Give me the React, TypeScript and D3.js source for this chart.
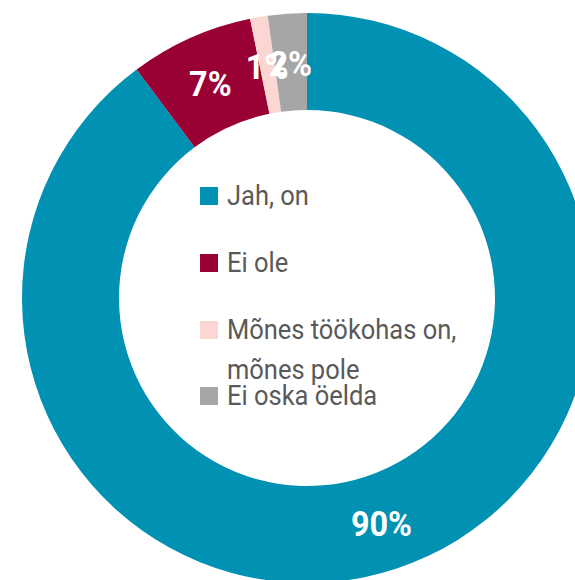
import * as d3 from 'd3';

const categories = ['Jah, on', 'Ei ole', 'Mõnes töökohas on, mõnes pole', 'Ei oska öelda'];
const legendLines = [['Jah, on'], ['Ei ole'], ['Mõnes töökohas on,', 'mõnes pole'], ['Ei oska öelda']];
const values = [89.8, 7.0, 1.0, 2.2];
const valueLabels = ['90%', '7%', '1%', '2%'];
const colors = ['#0091b3', '#990034', '#fbd6d2', '#a6a6a6'];

const WIDTH = 575;
const HEIGHT = 580;
const CX = 307;
const CY = 298;
const OUTER = 285;
const INNER = 188;

// legend rows (baseline of first line), roughly where the original put them
const LEGEND_X = 200;
const LEGEND_Y = [205, 272, 339, 405];

export default function App() {
  const pie = d3
    .pie<number>()
    .sort(null)
    .value((d) => d);
  const arcs = pie(values);
  const arc = d3.arc<d3.PieArcDatum<number>>().innerRadius(INNER).outerRadius(OUTER);

  return (
    <div style={{ position: 'absolute', left: 0, top: 0 }}>
      <svg width={WIDTH} height={HEIGHT} style={{ display: 'block' }}>
        <g transform={`translate(${CX},${CY})`}>
          {arcs.map((a, i) => (
            <path key={i} d={arc(a) || ''} fill={colors[i]} />
          ))}
          {arcs.map((a, i) => {
            const [x, y] = arc.centroid(a);
            return (
              <text
                key={'l' + i}
                transform={`translate(${x},${y + 14}) scale(0.9,1)`}
                textAnchor="middle"
                fill="#fff"
                fontFamily="Roboto, sans-serif"
                fontWeight={700}
                fontSize={36}
              >
                {valueLabels[i]}
              </text>
            );
          })}
        </g>
        <g fontFamily="Roboto, sans-serif" fontSize={28} fill="#595959">
          {categories.map((c, i) => (
            <g key={c}>
              <rect x={LEGEND_X} y={LEGEND_Y[i] - 18} width={18} height={18} fill={colors[i]} />
              {legendLines[i].map((line, j) => (
                <text
                  key={j}
                  transform={`translate(${LEGEND_X + 27},${LEGEND_Y[i] + j * 40}) scale(0.91,1)`}
                >
                  {line}
                </text>
              ))}
            </g>
          ))}
        </g>
      </svg>
    </div>
  );
}
